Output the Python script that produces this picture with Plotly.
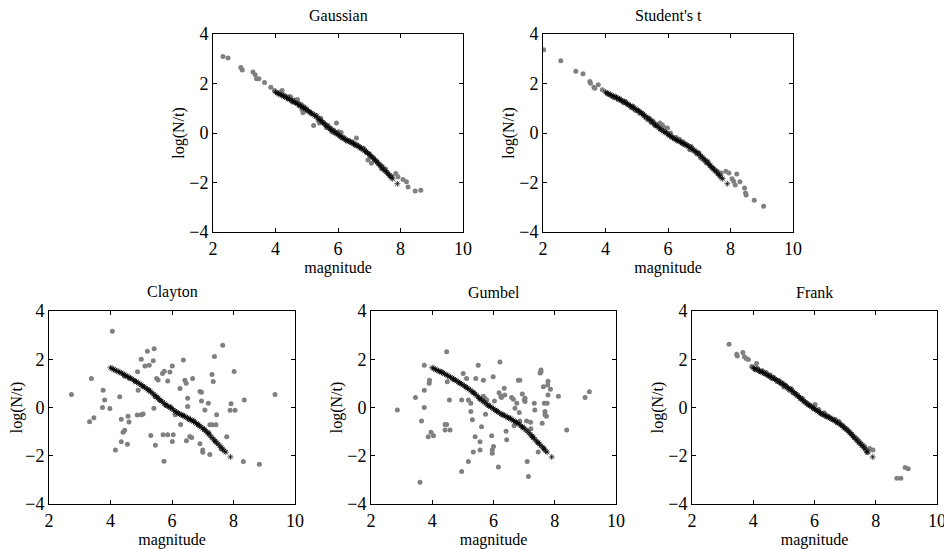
import plotly.graph_objects as go

# ---------------- data ----------------
panel_titles = ["Gaussian", "Student's t", "Clayton", "Gumbel", "Frank"]
x_ticks = [2, 4, 6, 8, 10]
y_ticks = [-4, -2, 0, 2, 4]

# observed (black asterisks)
obs_mag = [4.00, 4.05, 4.10, 4.15, 4.20, 4.25, 4.30, 4.35, 4.40, 4.45, 4.50, 4.55, 4.60, 4.65,
           4.70, 4.75, 4.80, 4.85, 4.90, 4.95, 5.00, 5.05, 5.10, 5.15, 5.20, 5.25, 5.30, 5.35,
           5.40, 5.45, 5.50, 5.55, 5.60, 5.65, 5.70, 5.75, 5.80, 5.85, 5.90, 5.95, 6.00, 6.05,
           6.10, 6.15, 6.20, 6.25, 6.30, 6.35, 6.40, 6.45, 6.50, 6.55, 6.60, 6.65, 6.70, 6.75,
           6.80, 6.85, 6.90, 6.95, 7.00, 7.05, 7.10, 7.15, 7.20, 7.25, 7.30, 7.35, 7.40, 7.45,
           7.50, 7.55, 7.60, 7.65, 7.70, 7.75, 7.90]
obs_log = [1.65, 1.62, 1.58, 1.55, 1.52, 1.49, 1.46, 1.43, 1.40, 1.36, 1.32, 1.29, 1.25, 1.22,
           1.18, 1.14, 1.10, 1.06, 1.02, 0.98, 0.94, 0.89, 0.85, 0.80, 0.76, 0.71, 0.66, 0.61,
           0.55, 0.50, 0.44, 0.38, 0.32, 0.27, 0.22, 0.16, 0.11, 0.07, 0.03, -0.01, -0.05, -0.10,
           -0.15, -0.19, -0.23, -0.27, -0.30, -0.33, -0.36, -0.40, -0.43, -0.46, -0.50, -0.54, -0.58, -0.62,
           -0.66, -0.71, -0.76, -0.81, -0.86, -0.92, -0.98, -1.04, -1.11, -1.18, -1.25, -1.32, -1.39, -1.46,
           -1.52, -1.58, -1.65, -1.72, -1.80, -1.85, -2.05]

# simulated (gray dots)
gauss_mag = [2.32, 2.48, 2.89, 2.94, 3.28, 3.35, 3.39, 3.47, 3.65, 3.85, 3.97,
             4.10, 4.18, 4.21, 4.25, 4.30, 4.35, 4.40, 4.45, 4.49, 4.52, 4.55, 4.58, 4.62, 4.65,
             4.67, 4.70, 4.73, 4.76, 4.80, 4.83, 4.85, 4.88, 4.92, 4.97, 5.02, 5.08, 5.15, 5.22,
             5.30, 5.38, 5.41, 5.45, 5.50, 5.55, 5.60, 5.63, 5.68, 5.72, 5.76, 5.79, 5.82, 5.86,
             5.90, 5.95, 5.97, 6.02, 6.05, 6.10, 6.12, 6.18, 6.22, 6.28, 6.35, 6.40, 6.45, 6.50,
             6.55, 6.59, 6.62, 6.68, 6.72, 6.78, 6.82, 6.88, 6.92, 6.96, 7.00, 7.03, 7.07, 7.12,
             7.18, 7.25, 7.30, 7.35, 7.39, 7.42, 7.48, 7.52, 7.58, 7.65, 7.72,
             7.85, 7.92, 8.08, 8.19, 8.24, 8.47, 8.65]
gauss_log = [3.09, 3.03, 2.65, 2.55, 2.46, 2.35, 2.19, 2.19, 2.04, 1.85, 1.72,
             1.62, 1.66, 1.72, 1.55, 1.50, 1.46, 1.38, 1.47, 1.45, 1.32, 1.25, 1.30, 1.33, 1.22,
             1.28, 1.35, 1.20, 1.10, 1.16, 1.14, 0.95, 0.82, 1.05, 0.98, 0.90, 0.85, 0.78, 0.30,
             0.72, 0.50, 0.40, 0.60, 0.45, 0.40, 0.35, 0.22, 0.30, 0.18, 0.20, 0.10, 0.05, 0.12,
             0.00, 0.40, -0.05, 0.05, -0.12, 0.02, -0.20, -0.18, -0.25, -0.32, -0.30, -0.38, -0.35, -0.42,
             -0.50, -0.20, -0.48, -0.55, -0.60, -0.65, -0.62, -0.72, -0.80, -1.09, -0.85, -0.95, -1.22, -1.00,
             -1.10, -1.15, -1.25, -1.28, -1.43, -1.35, -1.48, -1.45, -1.60, -1.70, -1.75,
             -1.64, -1.77, -1.88, -1.97, -2.18, -2.34, -2.31]

student_mag = [2.02, 2.57, 3.05, 3.28, 3.50, 3.52, 3.63, 3.66, 3.77, 3.90,
               4.05, 4.12, 4.20, 4.28, 4.33, 4.40, 4.46, 4.52, 4.58, 4.63, 4.70, 4.76, 4.82, 4.88,
               4.93, 4.98, 5.05, 5.10, 5.16, 5.22, 5.28, 5.35, 5.40, 5.46, 5.52, 5.58, 5.63, 5.68,
               5.74, 5.78, 5.82, 5.88, 5.92, 5.98, 6.03, 6.08, 6.14, 6.20, 6.26, 6.31, 6.37, 6.44,
               6.48, 6.53, 6.58, 6.64, 6.70, 6.74, 6.80, 6.86, 6.92, 6.98, 7.04, 7.10, 7.16, 7.22,
               7.28, 7.34, 7.40, 7.46, 7.52, 7.58, 7.64, 7.70,
               7.85, 7.95, 8.05, 8.10, 8.15, 8.20, 8.30, 8.45, 8.48, 8.50, 8.76, 9.06]
student_log = [3.36, 2.92, 2.49, 2.39, 2.08, 2.01, 1.85, 1.81, 1.95, 1.75,
               1.60, 1.55, 1.48, 1.42, 1.45, 1.35, 1.38, 1.30, 1.22, 1.28, 1.15, 1.12, 1.02, 1.08,
               0.95, 0.90, 0.92, 0.80, 0.82, 0.70, 0.62, 0.55, 0.60, 0.42, 0.48, 0.30, 0.35, 0.28,
               0.40, 0.15, 0.32, 0.22, 0.05, 0.20, -0.08, 0.00, -0.15, -0.22, -0.18, -0.30, -0.25, -0.41,
               -0.35, -0.48, -0.45, -0.52, -0.68, -0.55, -0.70, -0.75, -0.85, -0.80, -1.00, -1.05, -1.10, -1.20,
               -1.15, -1.30, -1.38, -1.42, -1.50, -1.55, -1.68, -1.62,
               -1.55, -1.62, -1.85, -1.95, -2.10, -1.66, -1.97, -2.22, -2.42, -2.50, -2.72, -2.96]

clayton_mag = [2.73, 3.32, 3.38, 3.46, 3.74, 3.76, 3.81, 3.98, 4.06, 4.16, 4.30, 4.35, 4.35, 4.41,
               4.46, 4.55, 4.57, 4.60, 4.87, 4.88, 4.90, 5.00, 5.00, 5.06, 5.12, 5.20, 5.26, 5.31,
               5.39, 5.42, 5.41, 5.46, 5.50, 5.55, 5.69, 5.75, 5.74, 5.71, 5.86, 5.86, 5.93, 6.01,
               6.01, 6.04, 6.26, 6.28, 6.37, 6.42, 6.46, 6.51, 6.47, 6.58, 6.64, 6.67, 6.51, 6.91,
               6.96, 6.91, 7.00, 7.00, 6.96, 7.07, 7.18, 7.23, 7.23, 7.30, 7.34, 7.38, 7.31, 7.43,
               7.45, 7.65, 7.78, 7.92, 7.89, 8.02, 8.05, 8.35, 8.32, 8.84, 9.35,
               4.45, 4.62, 4.80, 5.05, 5.25, 5.45, 5.52, 5.60, 5.80, 5.95, 6.10, 6.20, 6.35,
               6.55, 6.70, 6.85, 7.05, 7.20, 7.40, 7.60]
clayton_log = [0.54, -0.59, 1.20, -0.42, 0.00, 0.72, 0.31, -0.04, 3.16, -1.76, 0.45, -0.49, -1.42, -1.03,
               -0.94, -1.52, -0.36, -0.60, -0.31, 1.48, 0.72, 2.00, -0.30, -0.27, 1.72, 2.33, 1.75, -1.16,
               1.94, 2.44, -0.03, -1.56, 1.20, 1.14, 1.41, 1.50, -2.23, -1.13, -1.13, 1.10, 1.47, 1.72,
               -1.41, -1.13, 0.79, -0.70, 1.97, 1.13, 1.00, 0.38, -1.38, -1.20, -1.24, 1.20, 0.04, 0.66,
               0.63, -1.50, -1.76, -1.86, 0.27, -0.10, 0.18, -1.95, -0.71, 1.37, 1.08, 2.11, -0.71, -0.71,
               -0.30, 2.58, -1.21, 0.16, -0.11, 1.49, -0.11, 0.31, -2.24, -2.35, 0.54,
               1.30, 1.20, 1.08, 0.88, 0.72, 0.45, 0.42, 0.30, 0.08, 0.02, -0.30, -0.25, -0.32,
               -0.50, -0.55, -0.72, -0.90, -1.05, -1.40, -1.72]

gumbel_mag = [2.86, 3.45, 3.65, 3.74, 3.74, 3.74, 3.87, 3.90, 3.91, 3.96, 4.04, 4.42, 4.47, 4.42,
              4.47, 4.49, 4.56, 4.58, 4.96, 4.96, 5.01, 5.12, 5.18, 5.18, 5.26, 5.26, 5.31, 5.34,
              5.40, 5.42, 5.50, 5.56, 5.56, 5.61, 5.67, 5.67, 5.72, 5.74, 5.78, 5.94, 5.96, 5.96,
              5.99, 6.03, 6.00, 6.16, 6.21, 6.18, 6.24, 6.26, 6.35, 6.37, 6.41, 6.43, 6.59, 6.65,
              6.67, 6.70, 6.76, 6.81, 6.86, 6.84, 6.86, 6.94, 7.01, 7.03, 7.03, 7.08, 7.10, 7.14,
              7.21, 7.22, 7.28, 7.33, 7.35, 7.46, 7.52, 7.55, 7.55, 7.63, 7.66, 7.68, 7.68, 7.73,
              7.75, 7.77, 7.78, 7.78, 7.86, 8.12, 8.39, 8.99, 9.13, 7.59, 3.60,
              4.30, 4.70, 4.90, 5.10, 5.35, 5.55, 5.85, 6.10, 6.30, 6.50, 6.75, 6.95, 7.25, 7.45, 7.65]
gumbel_log = [-0.10, 0.41, -0.56, 1.75, 0.72, 0.00, -1.21, 1.00, 1.13, -1.03, -1.17, -0.70, -0.70, -0.93,
              2.31, 1.07, 0.31, -0.93, 0.31, -2.65, 1.41, 1.20, 0.31, -2.24, 0.18, -0.17, -0.51, -1.84,
              -1.21, 1.20, 1.75, -1.76, -1.42, -0.80, 1.13, 0.47, 0.38, -0.28, 0.31, -1.17, -1.76, -1.90,
              1.27, 0.27, -1.62, -2.47, 1.89, 0.61, 0.47, 0.41, 0.80, 0.52, -0.98, -1.34, 0.41, 0.34,
              -0.76, -0.03, 0.18, 1.13, 1.13, -0.21, -0.56, 0.56, 0.31, 0.38, 0.25, -0.56, -2.24, -2.86,
              -0.61, -0.88, -1.21, 0.18, -0.10, -1.84, 1.43, 1.47, 1.55, 0.86, 0.18, -0.17, -0.30, -0.36,
              0.18, 0.93, 1.09, 0.52, 0.76, 0.47, -0.93, 0.41, 0.65, -0.65, -3.10,
              1.48, 1.15, 1.00, 0.85, 0.62, 0.35, 0.08, -0.12, -0.30, -0.42, -0.62, -0.82, -1.18, -1.45, -1.70]

frank_mag = [3.21, 3.46, 3.48, 3.66, 3.71, 3.77, 3.84, 4.11, 3.95,
             4.05, 4.15, 4.22, 4.30, 4.36, 4.42, 4.48, 4.55, 4.60, 4.66, 4.72, 4.78, 4.84, 4.90,
             4.95, 5.00, 5.06, 5.12, 5.18, 5.24, 5.30, 5.36, 5.42, 5.48, 5.54, 5.60, 5.66, 5.72,
             5.78, 5.84, 5.90, 5.96, 6.02, 6.08, 6.14, 6.20, 6.26, 6.32, 6.38, 6.44, 6.50, 6.56,
             6.62, 6.68, 6.74, 6.80, 6.86, 6.92, 6.98, 7.04, 7.10, 7.16, 7.22, 7.28, 7.34, 7.40,
             7.46, 7.52, 7.58, 7.64, 7.71, 7.80, 7.91,
             8.69, 8.82, 8.96, 9.06]
frank_log = [2.62, 2.21, 2.13, 2.28, 2.10, 2.03, 1.99, 1.82, 1.70,
             1.58, 1.62, 1.48, 1.52, 1.40, 1.45, 1.32, 1.35, 1.20, 1.25, 1.18, 1.08, 1.12, 0.98,
             1.02, 0.85, 0.92, 0.80, 0.72, 0.78, 0.60, 0.58, 0.50, 0.45, 0.35, 0.38, 0.25, 0.20,
             0.15, 0.10, 0.05, -0.05, 0.12, -0.12, -0.08, -0.25, -0.30, -0.22, -0.38, -0.35, -0.42, -0.48,
             -0.52, -0.50, -0.62, -0.58, -0.70, -0.75, -0.85, -0.88, -0.95, -1.05, -1.10, -1.20, -1.25, -1.32,
             -1.40, -1.48, -1.55, -1.62, -1.87, -1.70, -1.76,
             -2.93, -2.93, -2.49, -2.54]

sim_mag = [gauss_mag, student_mag, clayton_mag, gumbel_mag, frank_mag]
sim_log = [gauss_log, student_log, clayton_log, gumbel_log, frank_log]

# ---------------- layout ----------------
# the page body has an 8px default margin: size the figure to fit inside it
OFF = 8
W, H = 952 - OFF, 549 - OFF
# axes pixel boxes in window coordinates: (left, right, top, bottom)
boxes = [(213, 463, 34, 232), (543, 793, 34, 232),
         (49, 295, 311, 504), (371, 616, 311, 504), (692, 937, 311, 504)]

FONT = "Times New Roman"
fig = go.Figure()
layout = dict(width=W, height=H, margin=dict(l=0, r=0, t=0, b=0, autoexpand=False),
              paper_bgcolor="white", plot_bgcolor="white", showlegend=False,
              font=dict(family=FONT, size=16, color="black"), annotations=[])

for i, (l, r, t, b) in enumerate(boxes):
    l, r, t, b = l - OFF, r - OFF, t - OFF, b - OFF
    n = "" if i == 0 else str(i + 1)
    xa, ya = "x" + n, "y" + n
    fig.add_trace(go.Scatter(x=sim_mag[i], y=sim_log[i], mode="markers", xaxis=xa, yaxis=ya,
                             marker=dict(color="#808080", size=5, line=dict(width=0))))
    fig.add_trace(go.Scatter(x=obs_mag, y=obs_log, mode="markers", xaxis=xa, yaxis=ya,
                             marker=dict(symbol="asterisk", color="black", size=5,
                                         line=dict(color="black", width=0.7))))
    common = dict(showline=True, mirror="allticks", linecolor="black", linewidth=1,
                  ticks="inside", ticklen=4, tickcolor="black", showgrid=False, zeroline=False,
                  automargin=False, tickfont=dict(family=FONT, size=18, color="black"))
    layout["xaxis" + n] = dict(domain=[l / W, r / W], range=[2, 10], tickvals=x_ticks,
                               anchor=ya, ticklabelstandoff=0,
                               title=dict(text="magnitude", standoff=0,
                                          font=dict(family=FONT, size=16)),
                               **common)
    layout["yaxis" + n] = dict(domain=[1 - b / H, 1 - t / H], range=[-4, 4], tickvals=y_ticks,
                               anchor=xa, title=dict(text="log(N/t)", standoff=0,
                                                     font=dict(family=FONT, size=16)),
                               **common)
    layout["annotations"].append(dict(text=panel_titles[i], x=(l + r) / 2 / W, y=1 - (t - 8) / H,
                                      xref="paper", yref="paper", xanchor="center", yanchor="bottom",
                                      showarrow=False, font=dict(family=FONT, size=16, color="black")))

fig.update_layout(**layout)
fig.write_html("out.html")
